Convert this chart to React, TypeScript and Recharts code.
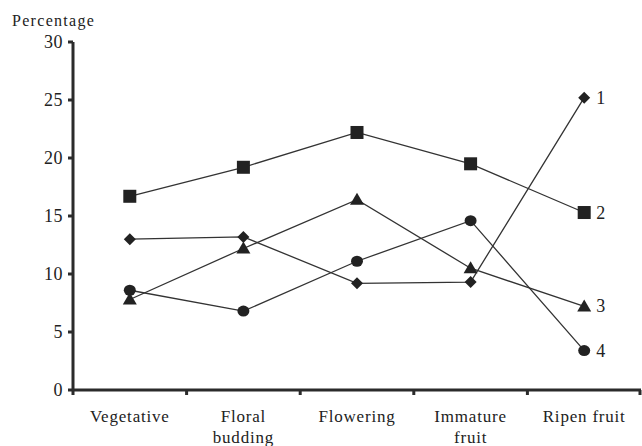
import React from 'react';
import { LineChart, Line, XAxis, YAxis, LabelList } from 'recharts';

const categories = ['Vegetative', 'Floral budding', 'Flowering', 'Immature fruit', 'Ripen fruit'];
const categoryLines = [['Vegetative'], ['Floral', 'budding'], ['Flowering'], ['Immature', 'fruit'], ['Ripen fruit']];
const series1 = [13.0, 13.2, 9.2, 9.3, 25.2];
const series2 = [16.7, 19.2, 22.2, 19.5, 15.3];
const series3 = [7.8, 12.2, 16.4, 10.5, 7.2];
const series4 = [8.6, 6.8, 11.1, 14.6, 3.4];
const seriesNames = ['1', '2', '3', '4'];
const yTicks = [0, 5, 10, 15, 20, 25, 30];

const data = categories.map((c, i) => ({
  name: c,
  s1: series1[i],
  s2: series2[i],
  s3: series3[i],
  s4: series4[i],
}));

const INK = '#222';
const AXIS = '#2b2b2b';
const FONT = 'Liberation Serif';

const Square = (p: any) => (
  <rect key={`sq${p.index}`} x={p.cx - 6.5} y={p.cy - 6.5} width={13} height={13} fill={INK} />
);
const Diamond = (p: any) => (
  <polygon
    key={`di${p.index}`}
    points={`${p.cx},${p.cy - 6} ${p.cx + 6},${p.cy} ${p.cx},${p.cy + 6} ${p.cx - 6},${p.cy}`}
    fill={INK}
  />
);
const Triangle = (p: any) => (
  <polygon
    key={`tr${p.index}`}
    points={`${p.cx},${p.cy - 7} ${p.cx + 7},${p.cy + 5} ${p.cx - 7},${p.cy + 5}`}
    fill={INK}
  />
);
const Circle = (p: any) => (
  <ellipse key={`ci${p.index}`} cx={p.cx} cy={p.cy} rx={6} ry={5.5} fill={INK} />
);

const XTick = (props: any) => {
  const { x, y, payload, index } = props;
  const half = payload && payload.offset ? payload.offset : 56.8;
  const lines = categoryLines[index] || [String(payload.value)];
  const axisY = y - 8;
  return (
    <g>
      <rect x={x - half - 1.5} y={axisY} width={3} height={5} fill={AXIS} />
      {index === categories.length - 1 && (
        <rect x={x + half - 2.5} y={axisY} width={3} height={5} fill={AXIS} />
      )}
      <text
        x={x}
        y={axisY}
        textAnchor="middle"
        fill={INK}
        fontFamily={FONT}
        style={{ fontFamily: FONT }}
        fontSize={17}
        letterSpacing={0.8}
      >
        {lines.map((l: string, i: number) => (
          <tspan key={i} x={x} y={axisY + 32 + i * 21}>
            {l}
          </tspan>
        ))}
      </text>
    </g>
  );
};

const YTick = (props: any) => {
  const { x, y, payload } = props;
  return (
    <text
      x={x}
      y={y + 6}
      textAnchor="end"
      fill={INK}
      fontFamily={FONT}
      style={{ fontFamily: FONT }}
      fontSize={18}
      letterSpacing={0.5}
    >
      {payload.value}
    </text>
  );
};

const endLabel = (name: string) => (p: any) => {
  if (p.index !== categories.length - 1) return null;
  return (
    <text
      key={`lb${name}`}
      x={p.x + 12}
      y={p.y + 6}
      fill={INK}
      fontFamily={FONT}
      style={{ fontFamily: FONT }}
      fontSize={18}
    >
      {name}
    </text>
  );
};

export default function App() {
  return (
    <div style={{ position: 'absolute', left: 0, top: 0, background: '#fff' }}>
      <LineChart
        width={642}
        height={446}
        data={data}
        margin={{ top: 42, right: 1, bottom: 6, left: 0 }}
      >
        <text
          x={12}
          y={26}
          fill={INK}
          fontFamily={FONT}
          style={{ fontFamily: FONT }}
          fontSize={16}
          letterSpacing={1.3}
        >
          Percentage
        </text>
        <XAxis
          dataKey="name"
          scale="band"
          height={50}
          axisLine={{ stroke: AXIS, strokeWidth: 3 }}
          tickLine={false}
          tick={<XTick />}
          interval={0}
        />
        <YAxis
          width={73}
          domain={[0, 30]}
          ticks={yTicks}
          axisLine={{ stroke: AXIS, strokeWidth: 3 }}
          tickLine={{ stroke: AXIS, strokeWidth: 3 }}
          tickSize={5}
          tickMargin={5}
          tick={<YTick />}
        />
        <Line dataKey="s1" stroke="#333" strokeWidth={1.3} dot={Diamond} isAnimationActive={false}>
          <LabelList dataKey="s1" content={endLabel(seriesNames[0])} />
        </Line>
        <Line dataKey="s2" stroke="#333" strokeWidth={1.3} dot={Square} isAnimationActive={false}>
          <LabelList dataKey="s2" content={endLabel(seriesNames[1])} />
        </Line>
        <Line dataKey="s3" stroke="#333" strokeWidth={1.3} dot={Triangle} isAnimationActive={false}>
          <LabelList dataKey="s3" content={endLabel(seriesNames[2])} />
        </Line>
        <Line dataKey="s4" stroke="#333" strokeWidth={1.3} dot={Circle} isAnimationActive={false}>
          <LabelList dataKey="s4" content={endLabel(seriesNames[3])} />
        </Line>
      </LineChart>
    </div>
  );
}
